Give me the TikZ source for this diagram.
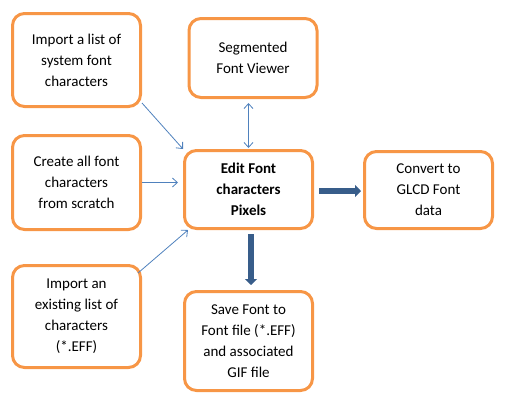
\documentclass[tikz,border=0pt]{standalone}
\usepackage{fontspec}
\setmainfont{Carlito}
\usepackage{xcolor}
\definecolor{boxline}{HTML}{F79646}
\definecolor{thinarr}{HTML}{4F81BD}
\definecolor{thickarr}{HTML}{385D8A}
\usepackage{tikz}
\usetikzlibrary{arrows.meta,positioning,calc}
\tikzset{
  fbox/.style     = {draw=boxline,line width=3pt,rounded corners=12pt,fill=white,
                     minimum width=128pt,align=center,
                     font=\fontsize{15pt}{21pt}\selectfont,text=black},
  thinflow/.style = {-{Straight Barb[length=5pt,width=9pt]},draw=thinarr,line width=0.8pt},
  bothflow/.style = {{Straight Barb[length=5pt,width=9pt]}-{Straight Barb[length=5pt,width=9pt]},
                     draw=thinarr,line width=0.8pt},
  thickflow/.style= {-{Triangle[length=6pt,width=12pt]},draw=thickarr,line width=6pt},
}

\begin{document}
\begin{tikzpicture}[x=1pt,y=-1pt]
  \useasboundingbox (0,0) rectangle (506,408);
  % source boxes on the left
  \node[fbox,minimum height=93pt]  (imp)    at (76.5,60)    {Import a list of\\system font\\characters};
  \node[fbox,minimum height=94pt]  (create) at (76.5,182.5) {Create all font\\characters\\from scratch};
  \node[fbox,minimum height=102pt] (impeff) at (76.5,316.5) {Import an\\existing list of\\characters\\(*.EFF)};
  % editor and its outputs
  \node[fbox,minimum height=79pt]  (seg)    at (253,58)     {Segmented\\Font Viewer};
  \node[fbox,minimum height=78pt,font=\fontsize{15pt}{21pt}\selectfont\bfseries] (edit) at (248.5,189.5) {Edit Font\\characters\\Pixels};
  \node[fbox,minimum height=77pt]  (conv)   at (428.5,190)  {Convert to\\GLCD Font\\data};
  \node[fbox,minimum height=99pt]  (save)   at (248.5,341)  {Save Font to\\Font file (*.EFF)\\and associated\\GIF file};

  \draw[thinflow] ([yshift=5pt]imp.south east) -- (edit.north west);
  \draw[thinflow] (create.east) -- ([xshift=-5pt]create.east -| edit.west);
  \draw[thinflow] ([xshift=-4pt,yshift=-9pt]impeff.north east) -- ([xshift=5pt]edit.south west);
  \draw[bothflow] ([yshift=-4pt]seg.south -| edit.north) -- ([yshift=1pt]edit.north);
  \draw[thickflow] ([xshift=5pt,yshift=-1.5pt]edit.east) -- ([xshift=-2pt,yshift=-1pt]conv.west);
  \draw[thickflow] ([xshift=2.5pt,yshift=-4pt]edit.south) -- ([xshift=2.5pt,yshift=5pt]save.north);
\end{tikzpicture}
\end{document}
